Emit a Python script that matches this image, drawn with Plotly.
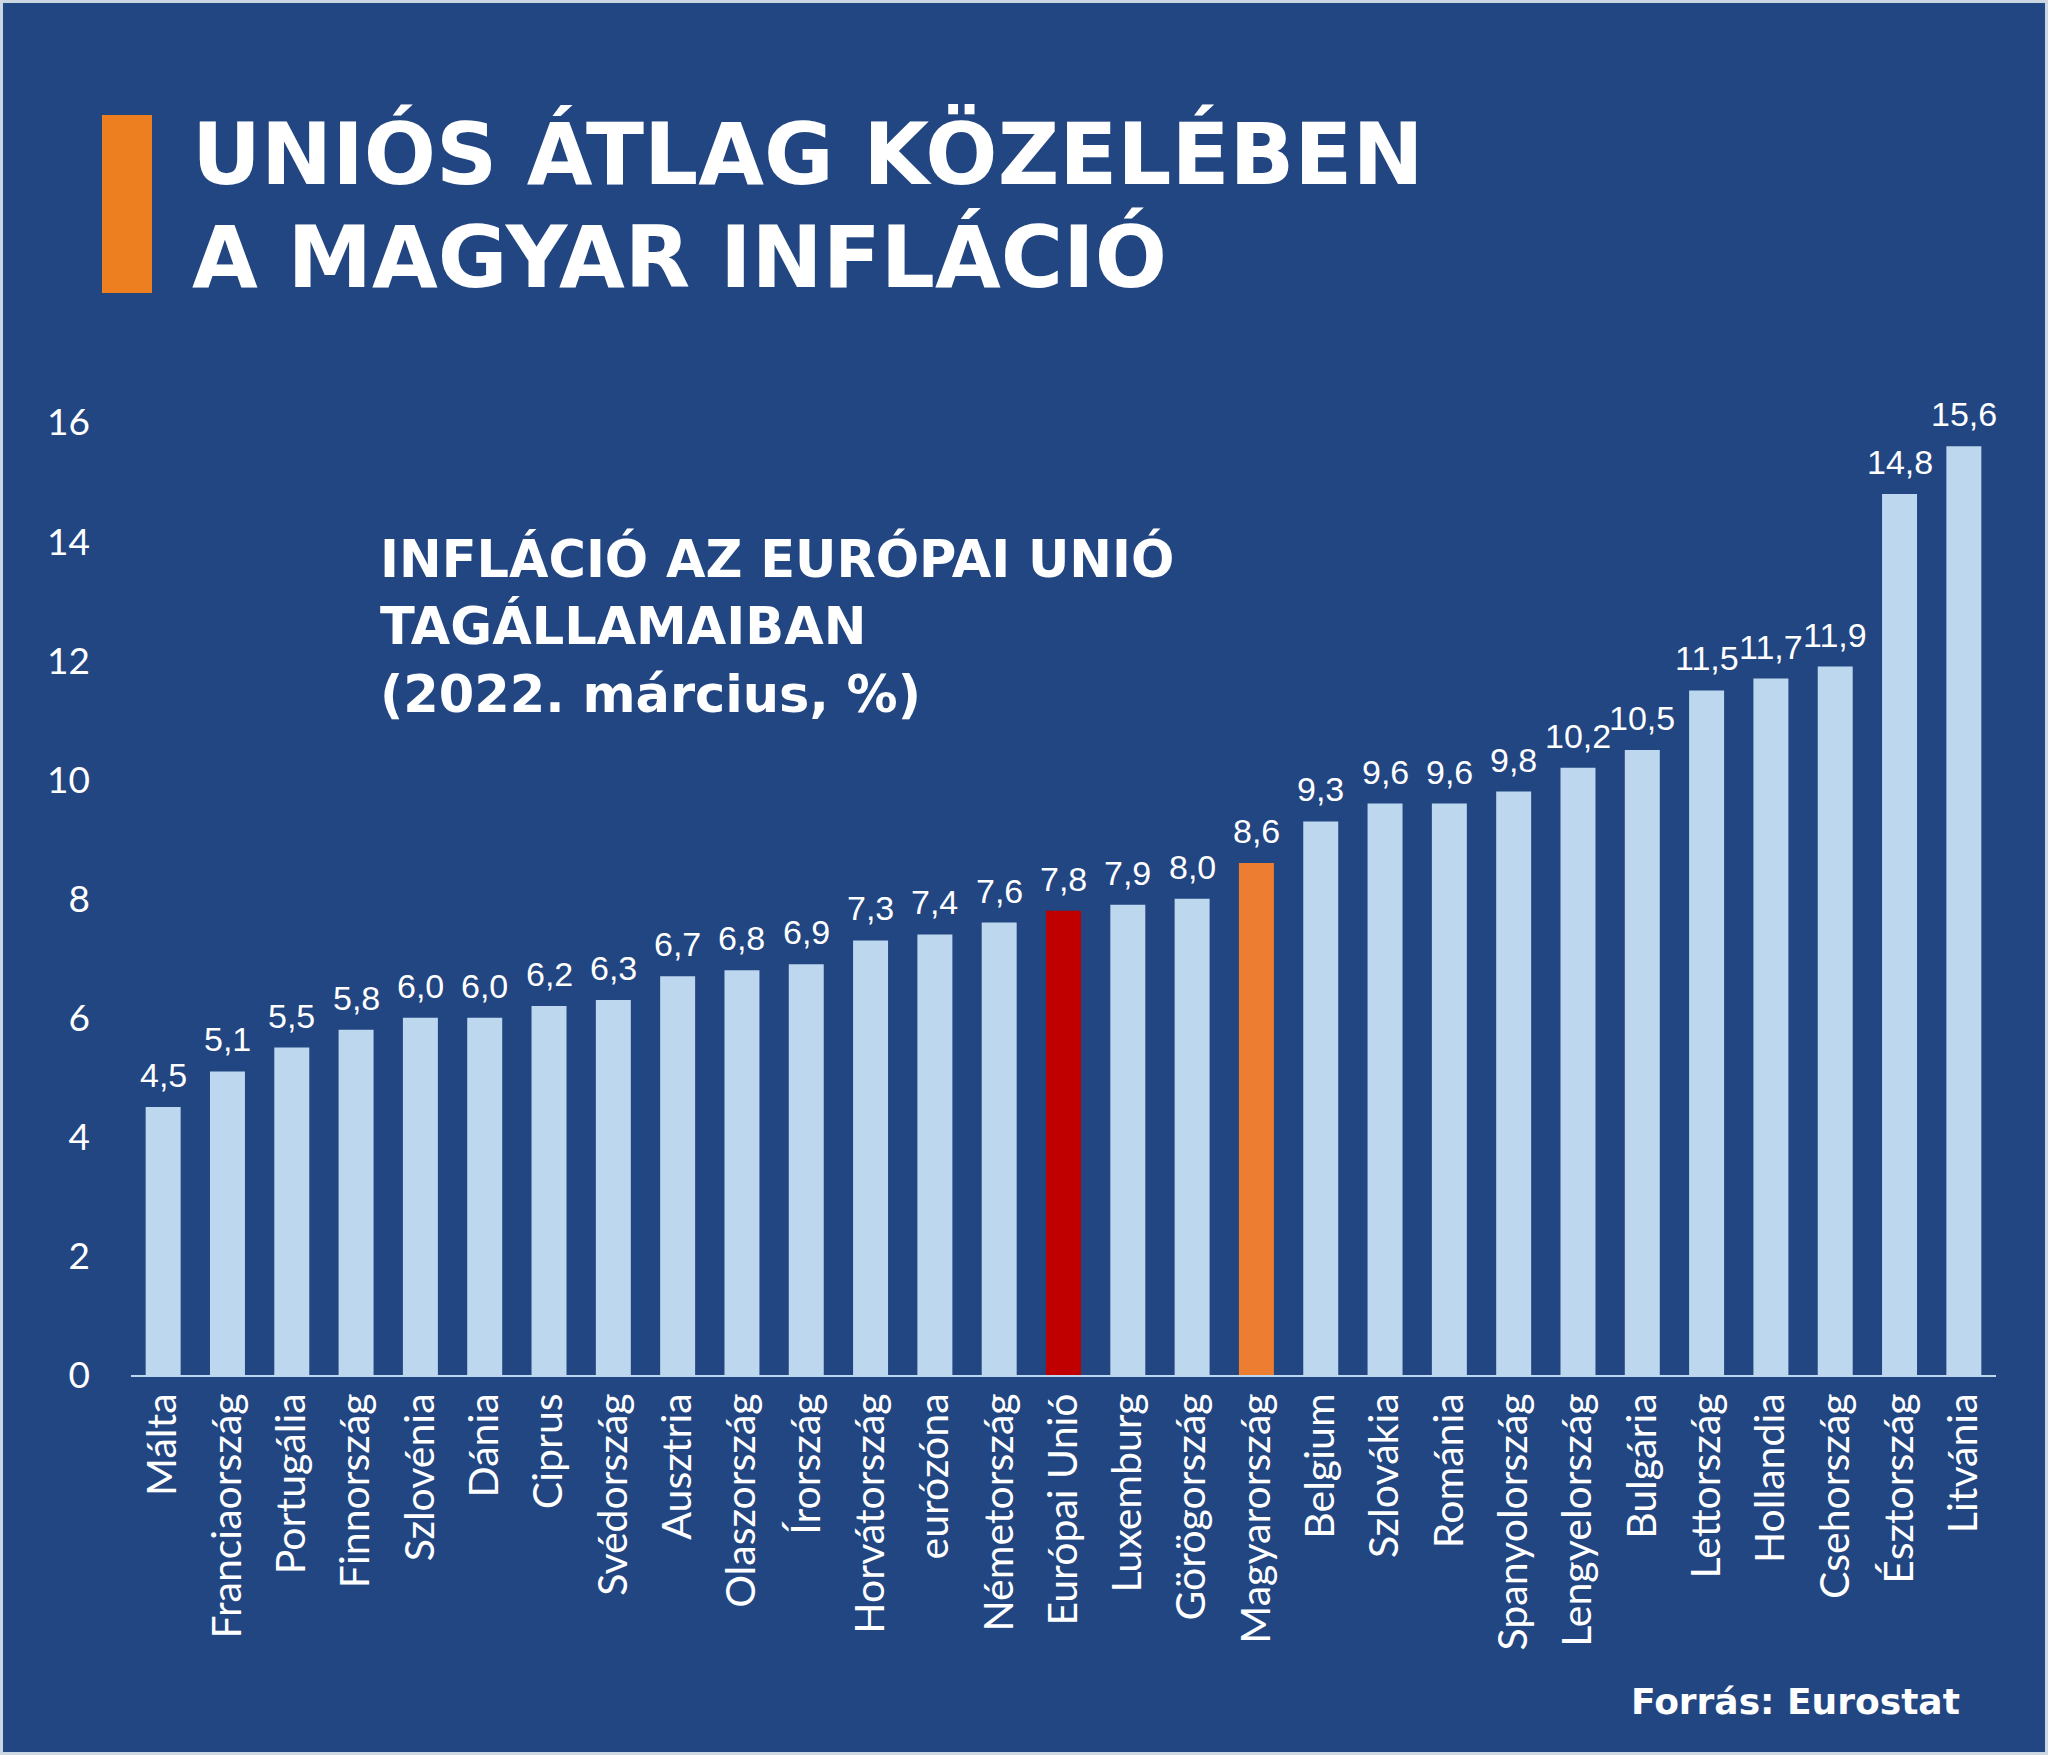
import plotly.graph_objects as go

# Inflation in EU member states, March 2022 (%), source: Eurostat
countries = ['Málta', 'Franciaország', 'Portugália', 'Finnország', 'Szlovénia', 'Dánia',
             'Ciprus', 'Svédország', 'Ausztria', 'Olaszország', 'Írország', 'Horvátország',
             'eurózóna', 'Németország', 'Európai Unió', 'Luxemburg', 'Görögország',
             'Magyarország', 'Belgium', 'Szlovákia', 'Románia', 'Spanyolország',
             'Lengyelország', 'Bulgária', 'Lettország', 'Hollandia', 'Csehország',
             'Észtország', 'Litvánia']
inflation = [4.5, 5.1, 5.5, 5.8, 6.0, 6.0, 6.2, 6.3, 6.7, 6.8, 6.9, 7.3, 7.4, 7.6, 7.8,
             7.9, 8.0, 8.6, 9.3, 9.6, 9.6, 9.8, 10.2, 10.5, 11.5, 11.7, 11.9, 14.8, 15.6]
y_ticks = [0, 2, 4, 6, 8, 10, 12, 14, 16]

BG = '#224682'
BAR = '#bdd7ee'
HIGHLIGHT = {'Európai Unió': '#c00000', 'Magyarország': '#ed7d31'}
colors = [HIGHLIGHT.get(c, BAR) for c in countries]

W, H = 2048, 1755
L, R, T, B = 131, 52, 363, 380


def px(x):
    return (x - L) / (W - L - R)


def py(y):
    return (H - B - y) / (H - T - B)


fig = go.Figure(go.Bar(
    x=countries,
    y=inflation,
    marker=dict(color=colors, line=dict(width=0)),
    hoverinfo='x+y',
))

# value labels above the bars
for c, v in zip(countries, inflation):
    fig.add_annotation(
        x=c, y=v, text=f'{v:.1f}'.replace('.', ','),
        showarrow=False, yanchor='bottom', yshift=11,
        font=dict(family='Liberation Sans, Arial', size=34, color='white'),
    )

title_font = dict(family='DejaVu Sans', size=85, color='white', weight='bold')
for text, yc in [('UNIÓS ÁTLAG KÖZELÉBEN', 154), ('A MAGYAR INFLÁCIÓ', 257)]:
    fig.add_annotation(xref='paper', yref='paper', x=px(191), y=py(yc), text=text,
                       showarrow=False, xanchor='left', yanchor='middle', borderpad=0,
                       font=title_font)

sub_font = dict(family='DejaVu Sans', size=51, color='white', weight='bold')
for text, yc in [('INFLÁCIÓ AZ EURÓPAI UNIÓ', 558), ('TAGÁLLAMAIBAN', 626),
                 ('(2022. március, %)', 694)]:
    fig.add_annotation(xref='paper', yref='paper', x=px(379), y=py(yc), text=text,
                       showarrow=False, xanchor='left', yanchor='middle', borderpad=0,
                       font=sub_font)

fig.add_annotation(xref='paper', yref='paper', x=px(1961), y=py(1701), text='Forrás: Eurostat',
                   showarrow=False, xanchor='right', yanchor='middle', borderpad=0,
                   font=dict(family='DejaVu Sans', size=36, color='white', weight='bold'))

# background panel with thin light frame, and the orange accent bar
fig.add_shape(type='rect', xref='paper', yref='paper', x0=px(3), x1=px(W - 3), y0=py(3), y1=py(H - 3),
              fillcolor=BG, line=dict(width=0), layer='below')
fig.add_shape(type='rect', xref='paper', yref='paper', x0=px(102), x1=px(152), y0=py(115), y1=py(293),
              fillcolor='#ee7f20', line=dict(width=0), layer='below')

fig.update_layout(
    width=W, height=H,
    margin=dict(l=L, r=R, t=T, b=B),
    paper_bgcolor='#cdd6e3',
    plot_bgcolor=BG,
    bargap=0.456,
    showlegend=False,
    font=dict(family='Lato', color='white'),
)
fig.update_xaxes(
    type='category', range=[-0.5, len(countries) - 0.5],
    showline=True, linecolor=BAR, linewidth=2,
    showgrid=False, zeroline=False, ticks='', tickangle=-90,
    tickfont=dict(family='Lato', size=41, color='white'),
    ticklabelstandoff=0,
)
fig.update_yaxes(
    range=[0, 17], tickvals=y_ticks, showgrid=False, zeroline=False, showline=False,
    ticks='', tickfont=dict(family='Lato', size=37, color='white'),
    ticklabelstandoff=40,
)

fig.write_html('out.html', config={'displayModeBar': False},
               post_script="document.body.style.margin='0';document.body.style.overflow='hidden';")
